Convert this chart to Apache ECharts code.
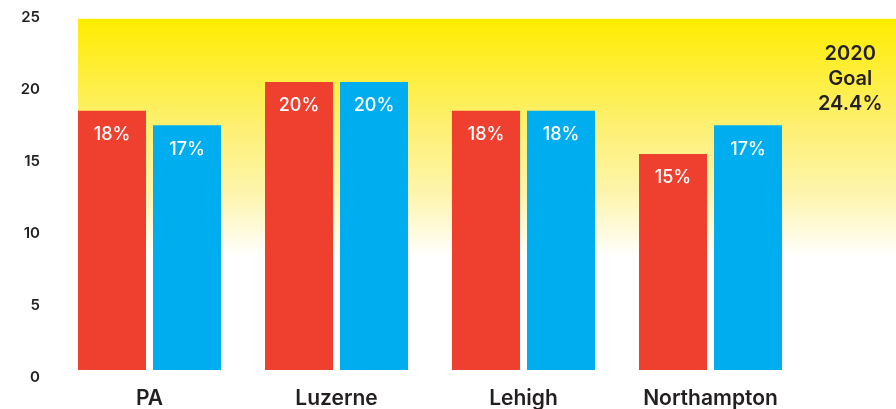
<!DOCTYPE html>
<html>
<head>
<meta charset="utf-8">
<script src="https://cdn.jsdelivr.net/npm/echarts@6/dist/echarts.min.js"></script>
<style>
  html, body { margin: 0; padding: 0; background: #ffffff; }
  #chart { width: 896px; height: 409px; }
</style>
</head>
<body>
<div id="chart"></div>
<script>
// Regions compared
const regions = ['PA', 'Luzerne', 'Lehigh', 'Northampton'];
// Two measurements per region (percent)
const redValues = [18, 20, 18, 15];
const blueValues = [17, 20, 18, 17];
// 2020 goal (percent), drawn as the yellow band behind the bars
const goalYear = '2020';
const goalValue = [24.4];
// Value axis ticks
const yMin = 0, yMax = 25, yStep = 5;

const FONT = 'Inter, "Open Sans", sans-serif';
const INK = '#231f20';

const chart = echarts.init(document.getElementById('chart'), null, { renderer: 'canvas' });

const barLabel = {
  show: true,
  position: 'insideTop',
  distance: 15,
  color: '#ffffff',
  fontFamily: FONT,
  fontSize: 18,
  fontWeight: 500,
  formatter: '{c}%'
};

chart.setOption({
  animation: false,
  backgroundColor: '#ffffff',
  grid: [
    { left: 56, right: 92, top: 10, bottom: 39 },
    { left: 78, right: 0, top: 10, bottom: 39 }
  ],
  xAxis: [
    {
      type: 'category',
      gridIndex: 0,
      data: regions,
      axisLine: { show: false },
      axisTick: { show: false },
      axisLabel: { color: INK, fontFamily: FONT, fontSize: 21, fontWeight: 600, margin: 18 }
    },
    {
      type: 'category',
      gridIndex: 1,
      data: ['goal'],
      show: false
    }
  ],
  yAxis: [
    {
      type: 'value',
      gridIndex: 0,
      min: yMin, max: yMax, interval: yStep,
      splitLine: { show: false },
      axisLine: { show: false },
      axisTick: { show: false },
      axisLabel: { color: INK, fontFamily: FONT, fontSize: 15, fontWeight: 600, margin: 16, verticalAlign: 'top' }
    },
    {
      type: 'value',
      gridIndex: 1,
      min: yMin, max: yMax,
      show: false
    }
  ],
  series: [
    {
      type: 'bar',
      xAxisIndex: 1,
      yAxisIndex: 1,
      data: goalValue,
      barWidth: '100%',
      z: 1,
      silent: true,
      itemStyle: {
        color: new echarts.graphic.LinearGradient(0, 0, 0, 1, [
          { offset: 0, color: '#ffec00' },
          { offset: 0.3, color: '#fdf070' },
          { offset: 0.5, color: '#fdf5ae' },
          { offset: 0.68, color: '#ffffff' },
          { offset: 1, color: '#ffffff' }
        ])
      },
      label: {
        show: true,
        position: ['94.4%', 23],
        align: 'center',
        verticalAlign: 'top',
        color: INK,
        fontFamily: FONT,
        fontSize: 20,
        fontWeight: 600,
        lineHeight: 25,
        formatter: (p) => goalYear + '\nGoal\n' + p.value + '%'
      }
    },
    {
      type: 'bar',
      name: 'red',
      data: redValues,
      barWidth: 68,
      barGap: '10.3%',
      z: 3,
      itemStyle: { color: '#ef3f2f' },
      label: barLabel
    },
    {
      type: 'bar',
      name: 'blue',
      data: blueValues,
      barWidth: 68,
      barGap: '10.3%',
      z: 3,
      itemStyle: { color: '#00aeef' },
      label: barLabel
    }
  ]
});
</script>
</body>
</html>
